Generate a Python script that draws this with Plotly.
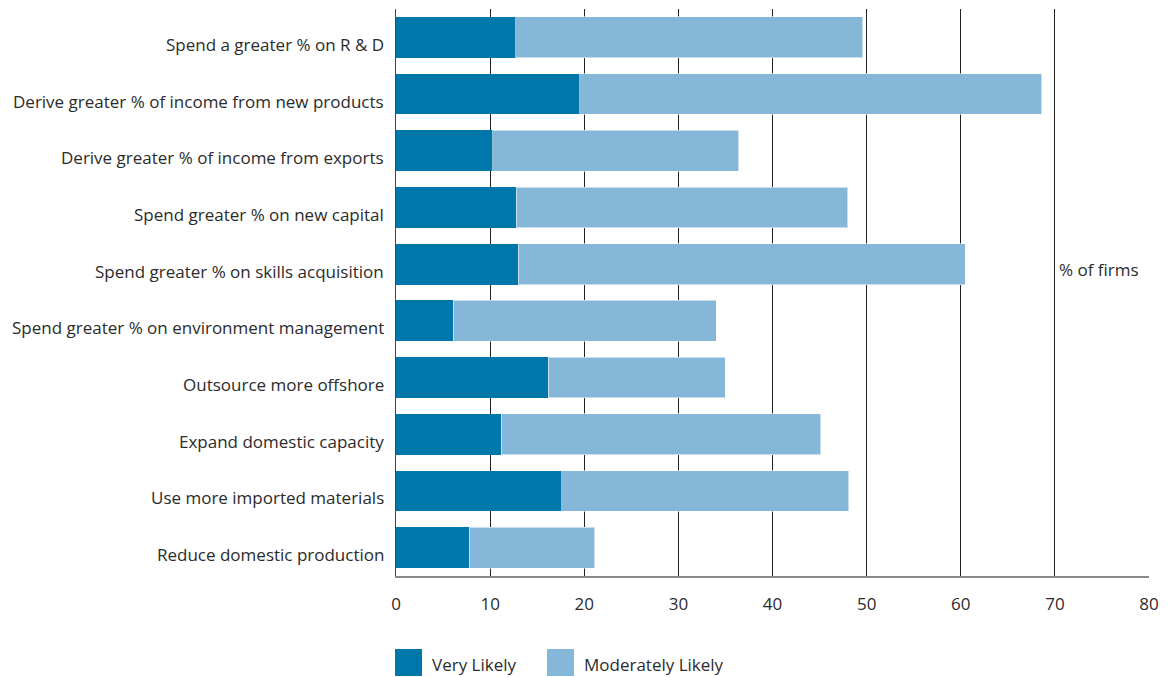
import plotly.graph_objects as go

# Survey responses: share of firms planning each action (%)
actions = [
    "Spend a greater % on R & D",
    "Derive greater % of income from new products",
    "Derive greater % of income from exports",
    "Spend greater % on new capital",
    "Spend greater % on skills acquisition",
    "Spend greater % on environment management",
    "Outsource more offshore",
    "Expand domestic capacity",
    "Use more imported materials",
    "Reduce domestic production",
]
very_likely = [12.7, 19.5, 10.3, 12.8, 13.0, 6.1, 16.2, 11.2, 17.6, 7.8]
moderately_likely = [36.9, 49.1, 26.1, 35.2, 47.5, 27.9, 18.8, 33.9, 30.5, 13.3]
x_ticks = [0, 10, 20, 30, 40, 50, 60, 70, 80]

DARK = "#0077AA"
LIGHT = "#84B7D8"
FONT = "Open Sans"
TEXT = "#2b2b2b"
FS = 17

fig = go.Figure()
fig.add_trace(go.Bar(
    y=actions, x=very_likely, orientation="h", name="Very Likely",
    marker=dict(color=DARK, line=dict(width=0)),
))
fig.add_trace(go.Bar(
    y=actions, x=moderately_likely, orientation="h", name="Moderately Likely",
    marker=dict(color=LIGHT, line=dict(color="rgba(255,255,255,0.55)", width=1)),
))

fig.update_layout(
    barmode="stack",
    bargap=0.28,
    width=1172, height=677,
    margin=dict(l=396, r=23, t=9, b=101, autoexpand=False),
    paper_bgcolor="white",
    plot_bgcolor="white",
    showlegend=False,
    font=dict(family=FONT, size=FS, color=TEXT),
    xaxis=dict(
        range=[0, 80], tickvals=x_ticks, ticktext=[str(v) for v in x_ticks],
        showgrid=True, gridcolor="#222222", gridwidth=1,
        zeroline=False, showline=True, linecolor="#888888", linewidth=2,
        ticks="", ticklabelstandoff=12,
        tickfont=dict(family=FONT, size=FS, color=TEXT),
        layer="below traces",
    ),
    yaxis=dict(
        categoryorder="array", categoryarray=actions, autorange="reversed",
        showgrid=False, zeroline=False, showline=True, linecolor="#444444",
        linewidth=1, ticks="", showticklabels=False,
    ),
)

# Category labels, set slightly below each bar's centre line
for a in actions:
    fig.add_annotation(
        x=0, y=a, xref="x", yref="y", xanchor="right", yanchor="middle",
        xshift=-10, yshift=-7, text=a, showarrow=False,
        font=dict(family=FONT, size=FS, color=TEXT),
    )

fig.add_annotation(
    x=70, y=actions[4], xref="x", yref="y", xanchor="left", xshift=2, yshift=-5,
    text="% of firms", showarrow=False,
    font=dict(family=FONT, size=FS, color=TEXT),
)

# Legend key drawn as large swatches below the axis
plot_h = 677 - 9 - 101
plot_w = 1172 - 396 - 23

def px_x(p):
    return (p - 396) / plot_w

def px_y(p):
    return (677 - 101 - p) / plot_h

legend_items = [("Very Likely", DARK, 395, 430), ("Moderately Likely", LIGHT, 547, 582)]
for label, color, sx, tx in legend_items:
    fig.add_shape(type="rect", xref="paper", yref="paper",
                  x0=px_x(sx), x1=px_x(sx + 27), y0=px_y(676), y1=px_y(649),
                  fillcolor=color, line=dict(width=0))
    fig.add_annotation(x=px_x(tx), y=px_y(664), xref="paper", yref="paper",
                       xanchor="left", yanchor="middle", text=label,
                       showarrow=False, font=dict(family=FONT, size=FS, color=TEXT))

fig.write_html("out.html")
